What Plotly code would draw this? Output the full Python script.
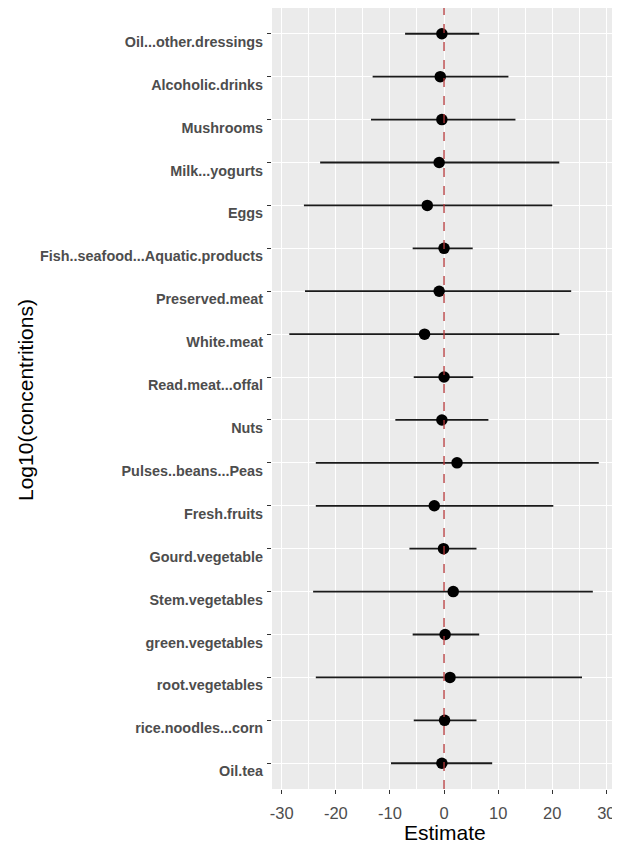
import plotly.graph_objects as go

categories = ["Oil...other.dressings", "Alcoholic.drinks", "Mushrooms", "Milk...yogurts", "Eggs",
              "Fish..seafood...Aquatic.products", "Preserved.meat", "White.meat", "Read.meat...offal",
              "Nuts", "Pulses..beans...Peas", "Fresh.fruits", "Gourd.vegetable", "Stem.vegetables",
              "green.vegetables", "root.vegetables", "rice.noodles...corn", "Oil.tea"]
estimate = [-0.4, -0.7, -0.4, -0.9, -3.1, 0.0, -0.9, -3.6, 0.0, -0.4, 2.4, -1.8, -0.1, 1.7, 0.2, 1.1, 0.1, -0.4]
lower = [-7.2, -13.2, -13.5, -22.9, -25.9, -5.8, -25.7, -28.6, -5.6, -9.0, -23.7, -23.7, -6.4, -24.2, -5.8, -23.7, -5.6, -9.8]
upper = [6.5, 11.9, 13.2, 21.3, 20.0, 5.3, 23.5, 21.3, 5.4, 8.2, 28.6, 20.2, 6.0, 27.5, 6.5, 25.5, 6.0, 8.9]
x_ticks = [-30, -20, -10, 0, 10, 20, 30]

err_plus = [u - e for u, e in zip(upper, estimate)]
err_minus = [e - l for e, l in zip(estimate, lower)]

# page offset of the plot div (default body margin)
OFF = 8
W, H = 620 - OFF, 843 - OFF
PANEL_L, PANEL_R, PANEL_T, PANEL_B = 272, 615, 8, 789
ML, MR, MT, MB = PANEL_L - OFF, 620 - PANEL_R, PANEL_T - OFF, 843 - PANEL_B
pw = W - ML - MR
ph = H - MT - MB

fig = go.Figure()
fig.add_trace(go.Scatter(
    x=estimate, y=categories, mode="markers",
    marker=dict(color="black", size=11.5),
    error_x=dict(type="data", symmetric=False, array=err_plus, arrayminus=err_minus,
                 width=0, thickness=1.8, color="#1a1a1a"),
    showlegend=False,
))
fig.add_vline(x=0, line=dict(color="#b5383a", dash="dash", width=1.3), layer="above")

fig.update_layout(
    width=W, height=H,
    margin=dict(l=ML, r=MR, t=MT, b=MB, pad=0),
    paper_bgcolor="white", plot_bgcolor="#ebebeb",
    font=dict(family="Liberation Sans, Arial, sans-serif"),
    annotations=[
        dict(text="Estimate", x=(445 - PANEL_L) / pw, xref="paper",
             y=-(833 - PANEL_B) / ph, yref="paper", showarrow=False,
             font=dict(size=21, color="black"), xanchor="center", yanchor="middle"),
        dict(text="Log10(concentritions)", x=(25 - PANEL_L) / pw, y=(PANEL_B - 400) / ph,
             xref="paper", yref="paper",
             showarrow=False, textangle=-90, font=dict(size=21, color="black"),
             xanchor="center", yanchor="middle"),
    ],
)

fig.update_xaxes(
    range=[-31.8, 31.6], tickvals=x_ticks, ticktext=[str(v) for v in x_ticks],
    showgrid=True, gridcolor="white", gridwidth=1.2,
    minor=dict(dtick=5, showgrid=True, gridcolor="white", gridwidth=0.6),
    zeroline=False, ticks="outside", ticklen=4, tickcolor="#333333",
    tickfont=dict(size=16.5, color="#4d4d4d"), ticklabelstandoff=5, automargin=False,
)
fig.update_yaxes(
    categoryorder="array", categoryarray=categories[::-1],
    range=[-0.6, 17.6],
    showgrid=True, gridcolor="white", gridwidth=1.2, zeroline=False,
    ticks="outside", ticklen=4, tickcolor="#333333",
    tickfont=dict(size=14.4, color="#4d4d4d", weight="bold"),
    ticklabelshift=8, ticklabelstandoff=1, automargin=False,
)
fig.write_html("out.html")
